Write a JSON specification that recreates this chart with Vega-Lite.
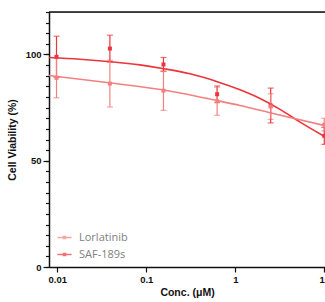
{
  "$schema": "https://vega.github.io/schema/vega-lite/v6.json",
  "width": 276,
  "height": 255,
  "autosize": "none",
  "padding": {"left": 49, "top": 12, "right": 0, "bottom": 35},
  "background": "white",
  "config": {
    "view": {"stroke": "#aaaaaa", "strokeWidth": 1},
    "axis": {"labelFont": "Liberation Sans", "titleFont": "Liberation Sans", "labelFontWeight": "bold", "titleFontWeight": "bold", "labelColor": "#111", "titleColor": "#111", "domainColor": "#111", "tickColor": "#111", "grid": false, "domainWidth": 1.5, "tickWidth": 1.2}
  },
  "datasets": {
    "pts": [
      {"series": "SAF-189s", "conc": 0.0098, "v": 98.9, "lo": 89.2, "hi": 108.6},
      {"series": "SAF-189s", "conc": 0.039, "v": 102.8, "lo": 96.5, "hi": 109.1},
      {"series": "SAF-189s", "conc": 0.156, "v": 95.3, "lo": 92.0, "hi": 98.6},
      {"series": "SAF-189s", "conc": 0.625, "v": 81.3, "lo": 77.4, "hi": 85.2},
      {"series": "SAF-189s", "conc": 2.5, "v": 76.0, "lo": 67.8, "hi": 84.2},
      {"series": "SAF-189s", "conc": 10, "v": 61.7, "lo": 57.7, "hi": 65.7},
      {"series": "Lorlatinib", "conc": 0.0098, "v": 89.0, "lo": 79.6, "hi": 98.4},
      {"series": "Lorlatinib", "conc": 0.039, "v": 86.3, "lo": 75.3, "hi": 97.3},
      {"series": "Lorlatinib", "conc": 0.156, "v": 83.0, "lo": 73.7, "hi": 92.3},
      {"series": "Lorlatinib", "conc": 0.625, "v": 78.0, "lo": 71.4, "hi": 84.6},
      {"series": "Lorlatinib", "conc": 2.5, "v": 75.5, "lo": 69.5, "hi": 81.5},
      {"series": "Lorlatinib", "conc": 10, "v": 67.0, "lo": 64.0, "hi": 70.0}
    ],
    "fit": [
      {"series": "SAF-189s", "conc": 0.00807, "v": 98.6},
      {"series": "SAF-189s", "conc": 0.018, "v": 97.8},
      {"series": "SAF-189s", "conc": 0.0401, "v": 96.6},
      {"series": "SAF-189s", "conc": 0.0849, "v": 95.1},
      {"series": "SAF-189s", "conc": 0.158, "v": 93.3},
      {"series": "SAF-189s", "conc": 0.31, "v": 90.9},
      {"series": "SAF-189s", "conc": 0.64, "v": 87.1},
      {"series": "SAF-189s", "conc": 1.13, "v": 83.4},
      {"series": "SAF-189s", "conc": 1.9, "v": 79.3},
      {"series": "SAF-189s", "conc": 3.18, "v": 74.2},
      {"series": "SAF-189s", "conc": 5.35, "v": 68.2},
      {"series": "SAF-189s", "conc": 10.19, "v": 61.3},
      {"series": "Lorlatinib", "conc": 0.00807, "v": 90.1},
      {"series": "Lorlatinib", "conc": 0.0401, "v": 86.6},
      {"series": "Lorlatinib", "conc": 0.158, "v": 83.3},
      {"series": "Lorlatinib", "conc": 0.64, "v": 78.2},
      {"series": "Lorlatinib", "conc": 1.13, "v": 76.0},
      {"series": "Lorlatinib", "conc": 2.52, "v": 72.5},
      {"series": "Lorlatinib", "conc": 10.19, "v": 66.5}
    ]
  },
  "resolve": {"axis": {"y": "independent"}},
  "layer": [
    {
      "data": {"values": [{"top": 120}]},
      "mark": {"type": "rule", "color": "#111", "strokeWidth": 1.5},
      "encoding": {
        "y": {
          "field": "top", "type": "quantitative",
          "scale": {"domain": [0, 120], "nice": false},
          "axis": {
            "orient": "left",
            "values": [0,5,10,15,20,25,30,35,40,45,50,55,60,65,70,75,80,85,90,95,100,105,110,115,120],
            "labels": false, "title": null, "tickSize": 3.5, "domain": false
          }
        }
      }
    },
    {
      "data": {"name": "fit"},
      "mark": {"type": "line", "interpolate": "monotone", "strokeWidth": 1.6, "clip": true},
      "encoding": {
        "x": {"field": "conc", "type": "quantitative", "title": "Conc. (μM)"},
        "y": {"field": "v", "type": "quantitative", "axis": null},
        "color": {"field": "series", "type": "nominal"}
      }
    },
    {
      "data": {"name": "pts"},
      "mark": {"type": "errorbar", "ticks": {"size": 6}, "thickness": 1.2},
      "encoding": {
        "x": {"field": "conc", "type": "quantitative", "title": "Conc. (μM)"},
        "y": {"field": "lo", "type": "quantitative", "axis": null},
        "y2": {"field": "hi"},
        "color": {"field": "series", "type": "nominal"}
      }
    },
    {
      "data": {"name": "pts"},
      "mark": {"type": "point", "shape": "square", "filled": true, "size": 16, "opacity": 1},
      "encoding": {
        "x": {
          "field": "conc", "type": "quantitative",
          "scale": {"type": "log", "domain": [0.00807, 10.19], "nice": false},
          "title": "Conc. (μM)",
          "axis": {"values": [0.01, 0.1, 1, 10], "format": "~g", "labelFontSize": 9.5, "titleFontSize": 10.5, "tickSize": 5, "labelPadding": 2, "titlePadding": 4, "labelFlush": false}
        },
        "y": {
          "field": "v", "type": "quantitative",
          "title": "Cell Viability (%)",
          "axis": {
            "orient": "left",
            "values": [0, 50, 100],
            "tickSize": 6, "labelFontSize": 9.5, "titleFontSize": 10.5, "labelPadding": 2, "titlePadding": 8
          }
        },
        "color": {
          "field": "series", "type": "nominal",
          "scale": {"domain": ["Lorlatinib", "SAF-189s"], "range": ["#f38080", "#ec343b"]},
          "legend": {
            "title": null, "orient": "none", "legendX": 8, "legendY": 218,
            "symbolType": "M-1,-0.09L1,-0.09L1,0.09L-1,0.09Z M-0.26,-0.26L0.26,-0.26L0.26,0.26L-0.26,0.26Z",
            "symbolSize": 200, "symbolStrokeWidth": 0, "labelFont": "Open Sans", "labelFontSize": 11, "labelColor": "#808080", "rowPadding": 4, "labelOffset": 7
          }
        }
      }
    }
  ]
}
